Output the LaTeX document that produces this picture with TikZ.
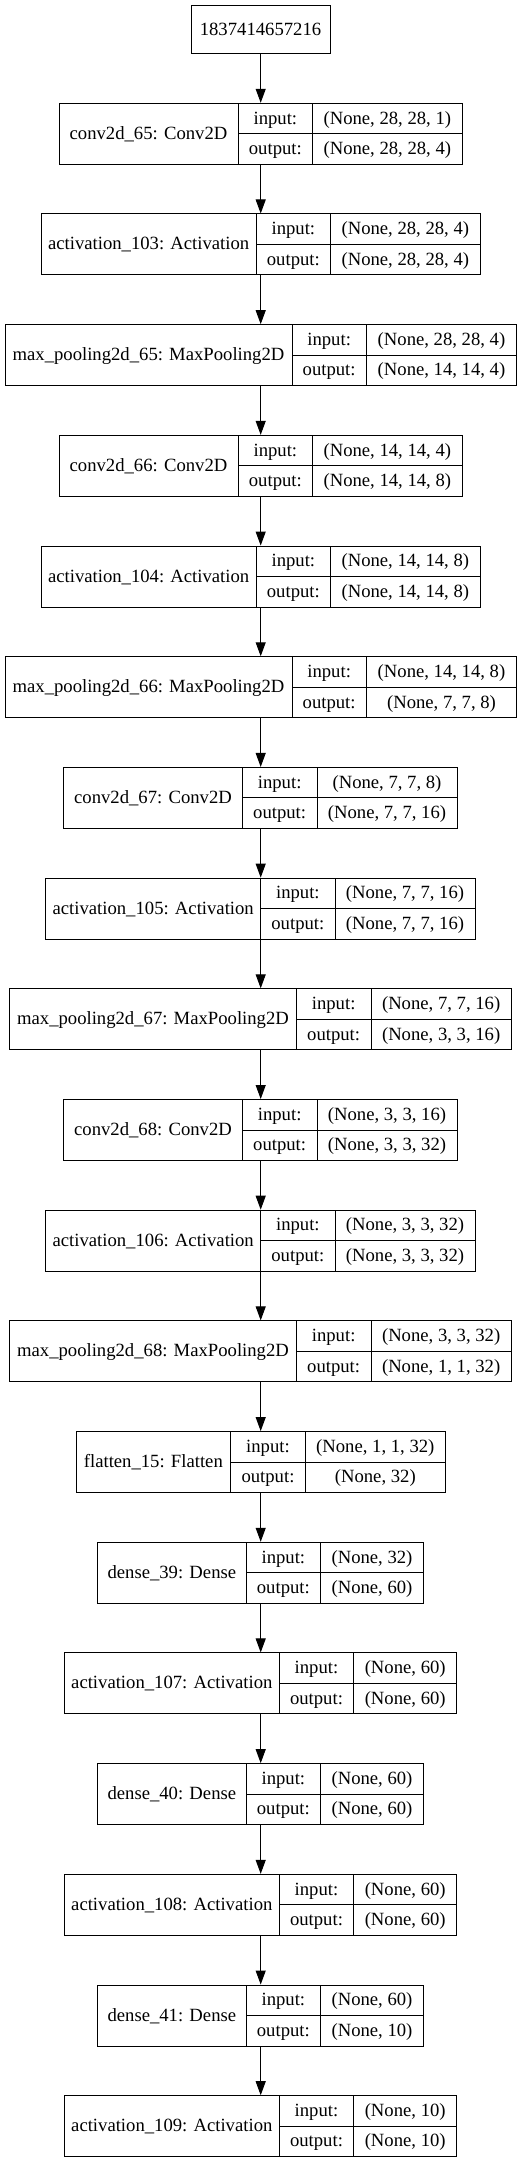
\documentclass[tikz,border=0pt]{standalone}
\usepackage{fontspec}
\setmainfont{Liberation Serif}
\usetikzlibrary{arrows.meta}
\tikzset{
  box/.style={draw=black, line width=1pt, inner sep=0pt, rectangle},
  rule/.style={draw=black, line width=1pt},
  txt/.style={inner sep=0pt, text height=14pt, text depth=3pt, font=\fontsize{18.67}{22}\selectfont},
  arr/.style={draw=black, line width=1pt, -{Triangle[length=14pt,width=10pt]}},
}
\newcommand\klayer[8]{%
  \pgfmathsetmacro\kty{103.3+110.69*#1}%
  \pgfmathsetmacro\kby{\kty+61}%
  \pgfmathsetmacro\kmy{\kty+30.5}%
  \pgfmathsetmacro\kcx{(#2+#5)/2}%
  \pgfmathsetmacro\kw{#5-#2}%
  \node[box, minimum width=\kw pt, minimum height=61pt] (L#1) at (\kcx,\kmy) {};
  \draw[rule] (#3,\kty) -- (#3,\kby);
  \draw[rule] (#4,\kty) -- (#4,\kby);
  \draw[rule] (#3,\kmy) -- (#5,\kmy);
  \node[txt] (L#1n) at ({(#2+#3)/2},\kmy) {#6};
  \node[txt] (L#1a) at ({(#3+#4)/2},{\kty+15.25}) {input:};
  \node[txt] (L#1b) at ({(#3+#4)/2},{\kty+45.75}) {output:};
  \node[txt] (L#1c) at ({(#4+#5)/2},{\kty+15.25}) {#7};
  \node[txt] (L#1d) at ({(#4+#5)/2},{\kty+45.75}) {#8};
}
\begin{document}
\begin{tikzpicture}[x=1pt,y=-1pt]
\useasboundingbox (0,0) rectangle (521,2163);
\fill[white] (0,0) rectangle (521,2163);
\node[box, minimum width=139pt, minimum height=48pt] (top) at (260.5,29.7) {};
\node[txt] (topt) at (260.5,29.7) {1837414657216};
\klayer{0}{59}{238}{312.7}{462}{conv2d\_65: Conv2D}{(None, 28, 28, 1)}{(None, 28, 28, 4)}
\klayer{1}{41.3}{256}{330.7}{480}{activation\_103: Activation}{(None, 28, 28, 4)}{(None, 28, 28, 4)}
\klayer{2}{5}{292}{366.3}{516.7}{max\_pooling2d\_65: MaxPooling2D}{(None, 28, 28, 4)}{(None, 14, 14, 4)}
\klayer{3}{59}{238}{312.7}{462}{conv2d\_66: Conv2D}{(None, 14, 14, 4)}{(None, 14, 14, 8)}
\klayer{4}{41.3}{256}{330.7}{480}{activation\_104: Activation}{(None, 14, 14, 8)}{(None, 14, 14, 8)}
\klayer{5}{5}{292}{366.3}{516.7}{max\_pooling2d\_66: MaxPooling2D}{(None, 14, 14, 8)}{(None, 7, 7, 8)}
\klayer{6}{63.7}{242.3}{317}{457}{conv2d\_67: Conv2D}{(None, 7, 7, 8)}{(None, 7, 7, 16)}
\klayer{7}{45.7}{260.7}{335}{475}{activation\_105: Activation}{(None, 7, 7, 16)}{(None, 7, 7, 16)}
\klayer{8}{9.7}{296.3}{371}{511.3}{max\_pooling2d\_67: MaxPooling2D}{(None, 7, 7, 16)}{(None, 3, 3, 16)}
\klayer{9}{63.7}{242.3}{317}{457}{conv2d\_68: Conv2D}{(None, 3, 3, 16)}{(None, 3, 3, 32)}
\klayer{10}{45.7}{260.7}{335}{475}{activation\_106: Activation}{(None, 3, 3, 32)}{(None, 3, 3, 32)}
\klayer{11}{9.7}{296.3}{371}{511.3}{max\_pooling2d\_68: MaxPooling2D}{(None, 3, 3, 32)}{(None, 1, 1, 32)}
\klayer{12}{76}{230.7}{305.3}{445.3}{flatten\_15: Flatten}{(None, 1, 1, 32)}{(None, 32)}
\klayer{13}{97.7}{246}{320.7}{423.3}{dense\_39: Dense}{(None, 32)}{(None, 60)}
\klayer{14}{64.3}{279.3}{353.7}{456.7}{activation\_107: Activation}{(None, 60)}{(None, 60)}
\klayer{15}{97.7}{246}{320.7}{423.3}{dense\_40: Dense}{(None, 60)}{(None, 60)}
\klayer{16}{64.3}{279.3}{353.7}{456.7}{activation\_108: Activation}{(None, 60)}{(None, 60)}
\klayer{17}{97.7}{246}{320.7}{423.3}{dense\_41: Dense}{(None, 60)}{(None, 10)}
\klayer{18}{64.3}{279.3}{353.7}{456.7}{activation\_109: Activation}{(None, 10)}{(None, 10)}
\coordinate (ax) at (260.7,0);
\draw[arr] (top.south -| ax) -- (L0.north -| ax);
\foreach \i [evaluate=\i as \j using int(\i+1)] in {0,...,17} {
  \draw[arr] (L\i.south -| ax) -- (L\j.north -| ax);
}
\end{tikzpicture}
\end{document}
